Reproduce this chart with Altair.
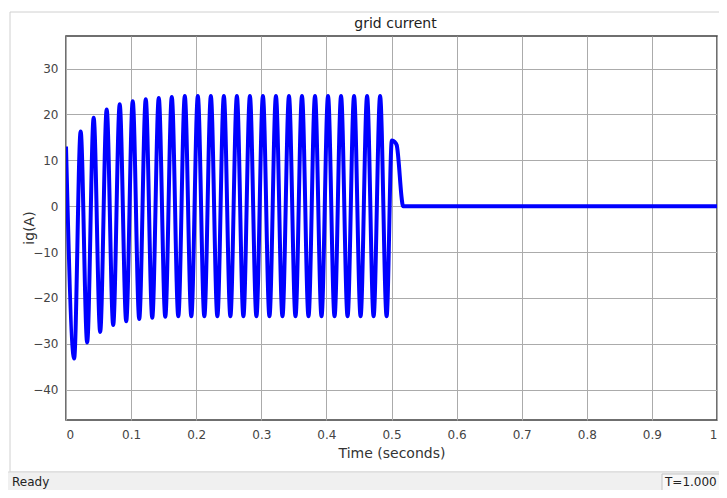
import altair as alt
import pandas as pd

# time (s) of extrema / breakpoints
time_s = [
    0.0, 0.0125, 0.0225, 0.0325, 0.0425, 0.0525, 0.0625, 0.0725, 0.0825, 0.0925,
    0.1025, 0.1125, 0.1225, 0.1325, 0.1425, 0.1525, 0.1625, 0.1725, 0.1825, 0.1925,
    0.2025, 0.2125, 0.2225, 0.2325, 0.2425, 0.2525, 0.2625, 0.2725, 0.2825, 0.2925,
    0.3025, 0.3125, 0.3225, 0.3325, 0.3425, 0.3525, 0.3625, 0.3725, 0.3825, 0.3925,
    0.4025, 0.4125, 0.4225, 0.4325, 0.4425, 0.4525, 0.4625, 0.4725, 0.4825, 0.4925,
    0.5005, 0.505, 0.508, 0.518, 1.0,
]
# grid current ig (A)
ig_amp = [
    13.0, -33.2, 16.3, -29.7, 19.3, -27.4, 21.1, -25.9, 22.2, -25.1,
    22.9, -24.6, 23.3, -24.3, 23.6, -24.1, 23.8, -24.0, 24.0, -24.0,
    24.0, -24.0, 24.0, -24.0, 24.0, -24.0, 24.0, -24.0, 24.0, -24.0,
    24.0, -24.0, 24.0, -24.0, 24.0, -24.0, 24.0, -24.0, 24.0, -24.0,
    24.0, -24.0, 24.0, -24.0, 24.0, -24.0, 24.0, -24.0, 24.0, -24.0,
    14.3, 14.0, 13.3, 0.0, 0.0,
]

x_ticks = [0, 0.1, 0.2, 0.3, 0.4, 0.5, 0.6, 0.7, 0.8, 0.9, 1]
y_ticks = [-40, -30, -20, -10, 0, 10, 20, 30]

FONT = "DejaVu Sans"
df = pd.DataFrame({"t": time_s, "ig": ig_amp})
one = alt.Data(values=[{"k": 1}])

W, H = 651, 384

# window frame and status bar decorations (no fill over the axes)
frame = alt.Chart(one).mark_rect(fillOpacity=0, stroke="#d0d0d0", strokeWidth=1).encode(
    x=alt.value(-56), x2=alt.value(W + 10), y=alt.value(-24), y2=alt.value(436)
)
status = alt.Chart(one).mark_rect(fill="#f0f0f0", stroke="#d8d8d8", strokeWidth=1).encode(
    x=alt.value(-60), x2=alt.value(W + 10), y=alt.value(436), y2=alt.value(470)
)
tbox = alt.Chart(one).mark_rect(fill="#f8f8f8", stroke="#c4c4c4", strokeWidth=1).encode(
    x=alt.value(596), x2=alt.value(W + 10), y=alt.value(438), y2=alt.value(470)
)
ready = alt.Chart(one).mark_text(align="left", baseline="middle", font=FONT, fontSize=12, color="#222").encode(
    x=alt.value(-54), y=alt.value(446), text=alt.value("Ready")
)
ttext = alt.Chart(one).mark_text(align="left", baseline="middle", font=FONT, fontSize=12, color="#222").encode(
    x=alt.value(599), y=alt.value(446), text=alt.value("T=1.000")
)
title = alt.Chart(one).mark_text(align="center", baseline="middle", font=FONT, fontSize=14, color="#222").encode(
    x=alt.value(W / 2 + 4), y=alt.value(-12), text=alt.value("grid current")
)
ytitle = alt.Chart(one).mark_text(align="center", baseline="middle", font=FONT, fontSize=14,
                                  color="#333", angle=270).encode(
    x=alt.value(-36), y=alt.value(H / 2), text=alt.value("ig(A)")
)

line = alt.Chart(df).mark_line(color="#0000ff", strokeWidth=4, interpolate="monotone", clip=True).encode(
    x=alt.X("t:Q", scale=alt.Scale(domain=[0, 1], nice=False, zero=False),
            axis=alt.Axis(values=x_ticks, format="~g", title="Time (seconds)",
                          grid=True, ticks=False, domain=False,
                          labelPadding=9, titlePadding=6)),
    y=alt.Y("ig:Q", scale=alt.Scale(domain=[-46.6, 37.1], nice=False, zero=False),
            axis=alt.Axis(values=y_ticks, format="d", title=None,
                          grid=True, ticks=False, domain=False,
                          labelPadding=8)),
)

chart = alt.layer(frame, status, tbox, ready, ttext, title, ytitle, line).properties(
    width=W, height=H,
    padding={"left": 58, "top": 28, "right": 2, "bottom": 70},
    autosize=alt.AutoSizeParams(type="none"),
    background="white",
).configure_view(
    stroke="#404040", strokeWidth=1.5, fill="white"
).configure_axis(
    gridColor="#ababab", gridWidth=1, gridOpacity=1,
    labelFont=FONT, labelFontSize=12, labelColor="#444",
    titleFont=FONT, titleFontSize=14, titleFontWeight="normal", titleColor="#333",
)

chart.save("out.html", embed_options={"renderer": "svg", "actions": False})
